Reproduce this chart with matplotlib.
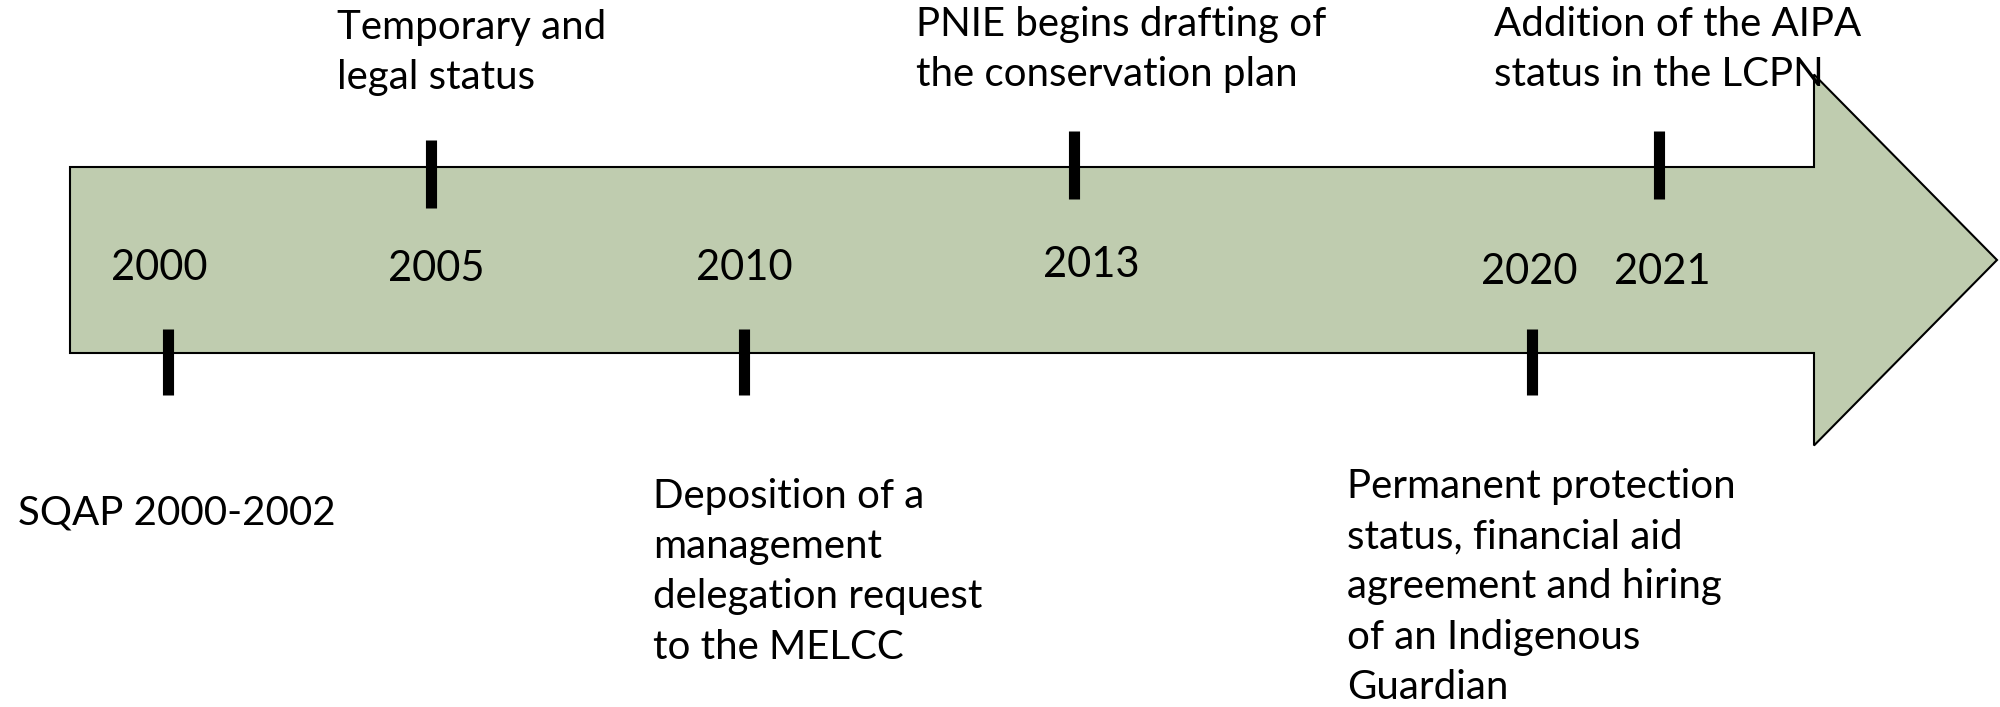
import matplotlib
matplotlib.use("Agg")
import matplotlib.pyplot as plt
from matplotlib.patches import FancyArrow

plt.rcParams['font.family'] = ['Lato', 'DejaVu Sans']

# timeline data
years = ['2000', '2005', '2010', '2013', '2020', '2021']
tick_x = [168, 431, 744, 1074, 1532, 1659]      # position along the arrow
year_x = [159, 436, 744, 1091, 1529, 1662]
year_y = [268, 269, 268, 265, 272, 272]
side = ['below', 'above', 'below', 'above', 'below', 'above']

events = [
    'SQAP 2000-2002',
    'Temporary and\nlegal status',
    'Deposition of a\nmanagement\ndelegation request\nto the MELCC',
    'PNIE begins drafting of\nthe conservation plan',
    'Permanent protection\nstatus, financial aid\nagreement and hiring\nof an Indigenous\nGuardian',
    'Addition of the AIPA\nstatus in the LCPN',
]
event_x = [18, 337, 653, 916, 1347, 1494]
event_y = [511, 26, 495, 23, 485, 23]   # centre of first line

fig = plt.figure(figsize=(20, 7.07), dpi=100)
ax = fig.add_axes([0, 0, 1, 1])
ax.set_xlim(0, 2000)
ax.set_ylim(707, 0)
ax.axis('off')

# big arrow
arrow = FancyArrow(70, 260, 1927, 0, width=186, head_width=371, head_length=183,
                   length_includes_head=True, facecolor='#BFCCAF', edgecolor='black',
                   linewidth=1.5, joinstyle='miter')
ax.add_patch(arrow)

fs = 29
for i in range(len(years)):
    if side[i] == 'above':
        y0, y1 = 131 + (9 if i == 1 else 0), 199 + (9 if i == 1 else 0)
    else:
        y0, y1 = 329, 395
    ax.plot([tick_x[i], tick_x[i]], [y0, y1], color='black', linewidth=8,
            solid_capstyle='butt')
    ax.text(year_x[i], year_y[i], years[i], fontsize=fs + 1, ha='center', va='center')
    ax.text(event_x[i], event_y[i] - 17, events[i], fontsize=fs, ha='left',
            va='top', linespacing=1.44)

fig.savefig('out.png', dpi=100)
